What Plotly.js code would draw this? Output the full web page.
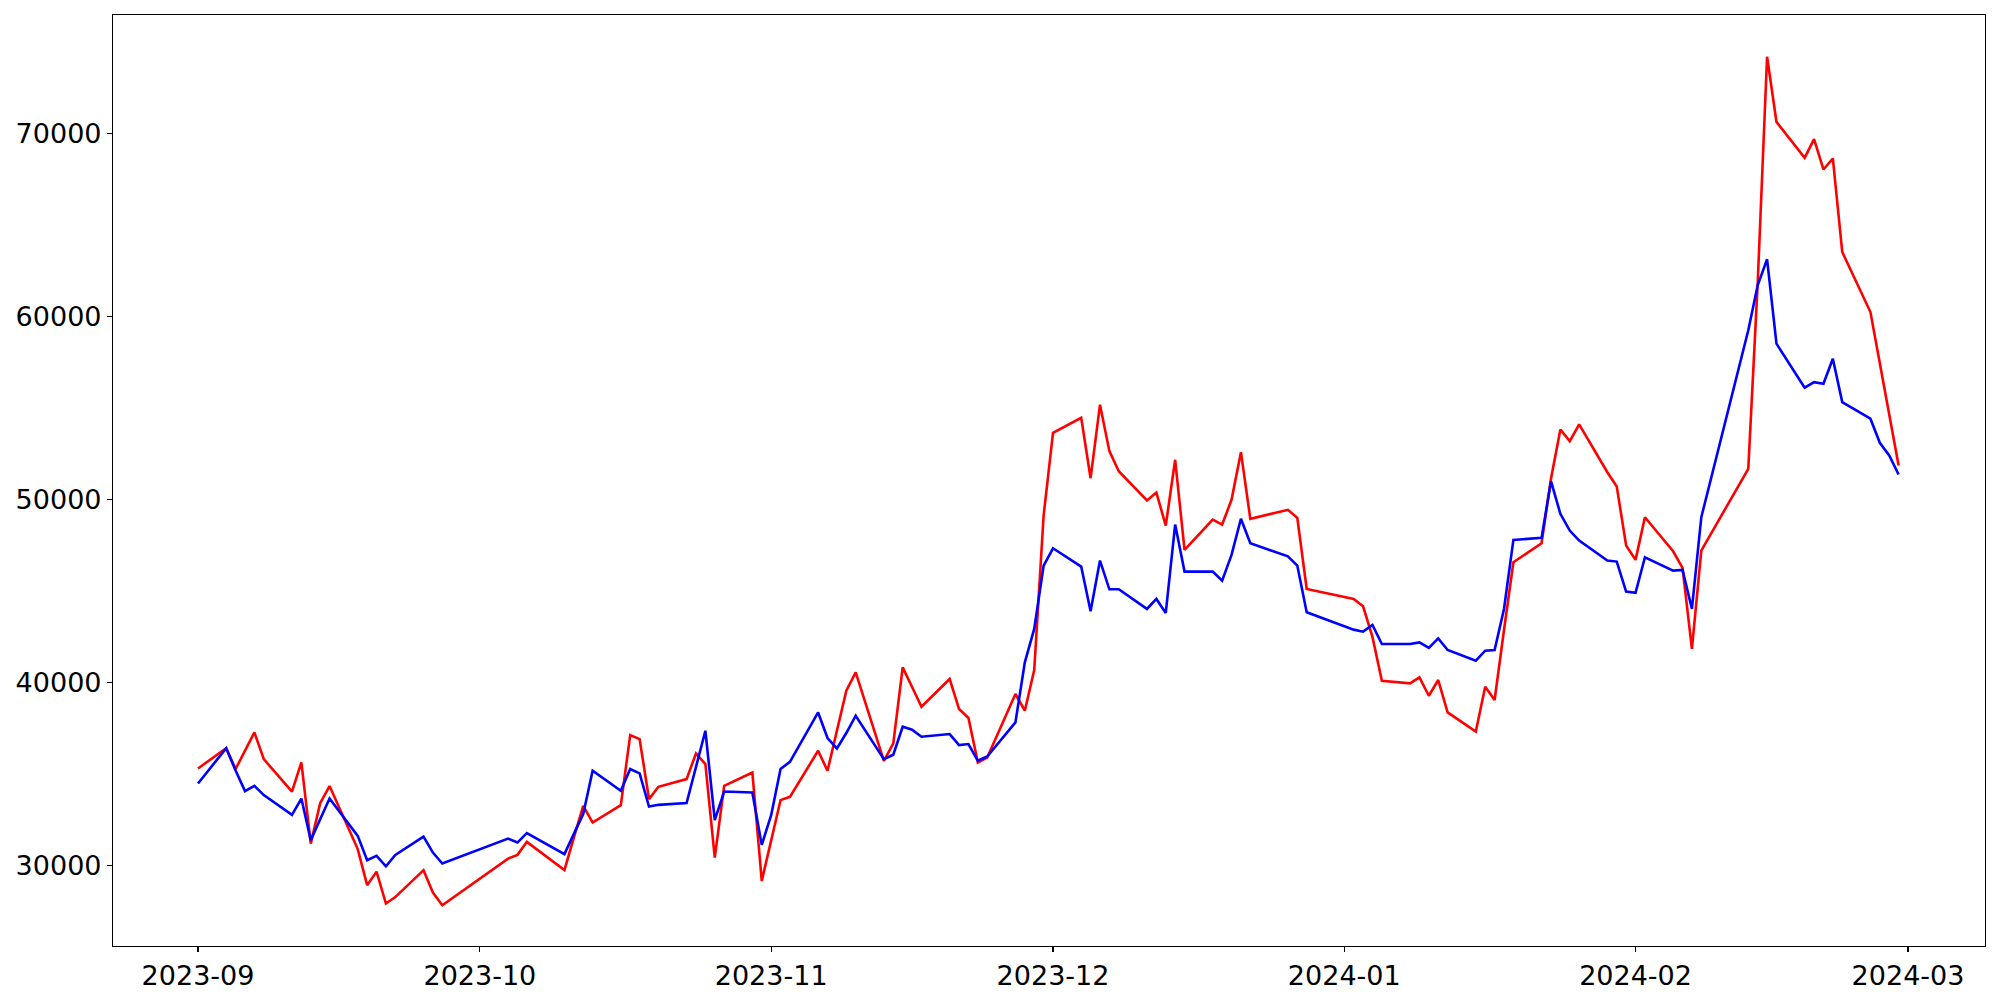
<!DOCTYPE html>
<html>
<head>
<meta charset="utf-8">
<script src="https://cdn.plot.ly/plotly-3.0.1.min.js"></script>
<style>html,body{margin:0;padding:0;background:#fff;}#chart{width:2000px;height:1000px;}</style>
</head>
<body>
<div id="chart"></div>
<script>
const dates = [
"2023-09-01","2023-09-04","2023-09-05","2023-09-06","2023-09-07","2023-09-08",
"2023-09-11","2023-09-12","2023-09-13","2023-09-14","2023-09-15",
"2023-09-18","2023-09-19","2023-09-20","2023-09-21","2023-09-22",
"2023-09-25","2023-09-26","2023-09-27",
"2023-10-04","2023-10-05","2023-10-06",
"2023-10-10","2023-10-11","2023-10-12","2023-10-13",
"2023-10-16","2023-10-17","2023-10-18","2023-10-19","2023-10-20",
"2023-10-23","2023-10-24","2023-10-25","2023-10-26","2023-10-27",
"2023-10-30","2023-10-31","2023-11-01","2023-11-02","2023-11-03",
"2023-11-06","2023-11-07","2023-11-08","2023-11-09","2023-11-10",
"2023-11-13","2023-11-14","2023-11-15","2023-11-16","2023-11-17",
"2023-11-20","2023-11-21","2023-11-22","2023-11-23","2023-11-24",
"2023-11-27","2023-11-28","2023-11-29","2023-11-30","2023-12-01",
"2023-12-04","2023-12-05","2023-12-06","2023-12-07","2023-12-08",
"2023-12-11","2023-12-12","2023-12-13","2023-12-14","2023-12-15",
"2023-12-18","2023-12-19","2023-12-20","2023-12-21","2023-12-22",
"2023-12-26","2023-12-27","2023-12-28",
"2024-01-02","2024-01-03","2024-01-04","2024-01-05",
"2024-01-08","2024-01-09","2024-01-10","2024-01-11","2024-01-12",
"2024-01-15","2024-01-16","2024-01-17","2024-01-18","2024-01-19",
"2024-01-22","2024-01-23","2024-01-24","2024-01-25","2024-01-26",
"2024-01-29","2024-01-30","2024-01-31","2024-02-01","2024-02-02",
"2024-02-05","2024-02-06","2024-02-07","2024-02-08",
"2024-02-13","2024-02-14","2024-02-15","2024-02-16",
"2024-02-19","2024-02-20","2024-02-21","2024-02-22","2024-02-23",
"2024-02-26","2024-02-27","2024-02-28","2024-02-29"
];

const redValues = [
35320,36430,35290,36290,37290,35830,
34060,35650,31220,33430,34360,
30920,28950,29690,27950,28300,
29770,28545,27856,
30400,30605,31315,
29770,31550,33280,32370,
33320,37145,36926,33648,34320,
34741,36140,35560,30457,34375,
35101,29184,31450,33593,33774,
36287,35194,37380,39566,40565,
35741,36686,40839,39767,38691,
40205,38566,38074,35648,35921,
39385,38473,40697,49128,53646,
54466,51166,55176,52641,51548,
49947,50384,48581,52171,47253,
48909,48636,49985,52586,48947,
49439,49002,45122,
44576,44172,42500,40112,
39964,40292,39292,40149,38380,
37331,39784,39058,42880,46576,
47614,51133,53827,53187,54100,
51493,50712,47488,46707,49035,
47177,46270,41844,47215,
51679,61800,74169,70617,
68650,69672,68017,68618,63514,
60236,57440,54650,51860
];

const blueValues = [
34500,36430,35210,34085,34375,33866,
32790,33680,31410,32520,33680,
31640,30315,30550,29980,30600,
31600,30730,30130,
31495,31277,31790,
30643,31750,32830,35194,
34100,35287,35050,33244,33336,
33429,35375,37380,32500,34063,
34009,31151,32773,35287,35686,
38380,36981,36413,37254,38200,
35833,36069,37598,37435,37052,
37200,36599,36653,35741,35976,
37833,41112,42937,46396,47341,
46341,43898,46669,45101,45101,
44030,44576,43811,48636,46068,
46068,45576,46980,48947,47614,
46904,46396,43844,
42899,42789,43155,42117,
42117,42205,41899,42423,41789,
41205,41751,41789,44030,47800,
47909,51002,49220,48308,47762,
46669,46614,44975,44904,46849,
46122,46160,44030,49035,
59240,61695,63115,58509,
56105,56411,56324,57690,55319,
54411,53100,52406,51368
];

const tickVals = ["2023-09-01","2023-10-01","2023-11-01","2023-12-01","2024-01-01","2024-02-01","2024-03-01"];
const tickText = ["2023-09","2023-10","2023-11","2023-12","2024-01","2024-02","2024-03"];
const yTickVals = [30000,40000,50000,60000,70000];

const traces = [
  {x: dates, y: redValues, type: "scatter", mode: "lines", line: {color: "#ff0000", width: 2.6}, showlegend: false, hoverinfo: "x+y"},
  {x: dates, y: blueValues, type: "scatter", mode: "lines", line: {color: "#0000ff", width: 2.6}, showlegend: false, hoverinfo: "x+y"}
];

const axisCommon = {
  showgrid: false, zeroline: false, showline: true, mirror: true,
  linecolor: "#000", linewidth: 1.1,
  ticks: "outside", ticklen: 5, tickwidth: 1.1, tickcolor: "#000",
  tickfont: {family: "DejaVu Sans, sans-serif", size: 27, color: "#000"}
};

const layout = {
  width: 2000, height: 1000,
  margin: {l: 113, r: 15, t: 15, b: 54, pad: 0},
  paper_bgcolor: "#fff", plot_bgcolor: "#fff",
  font: {family: "DejaVu Sans, sans-serif", size: 27, color: "#000"},
  xaxis: Object.assign({}, axisCommon, {
    type: "date",
    range: ["2023-08-22 22:50", "2024-03-09 04:40"],
    tickmode: "array", tickvals: tickVals, ticktext: tickText
  }),
  yaxis: Object.assign({}, axisCommon, {
    range: [25630, 76450],
    tickmode: "array", tickvals: yTickVals, ticktext: yTickVals.map(String)
  })
};

Plotly.newPlot("chart", traces, layout, {displayModeBar: false, staticPlot: true});
</script>
</body>
</html>
